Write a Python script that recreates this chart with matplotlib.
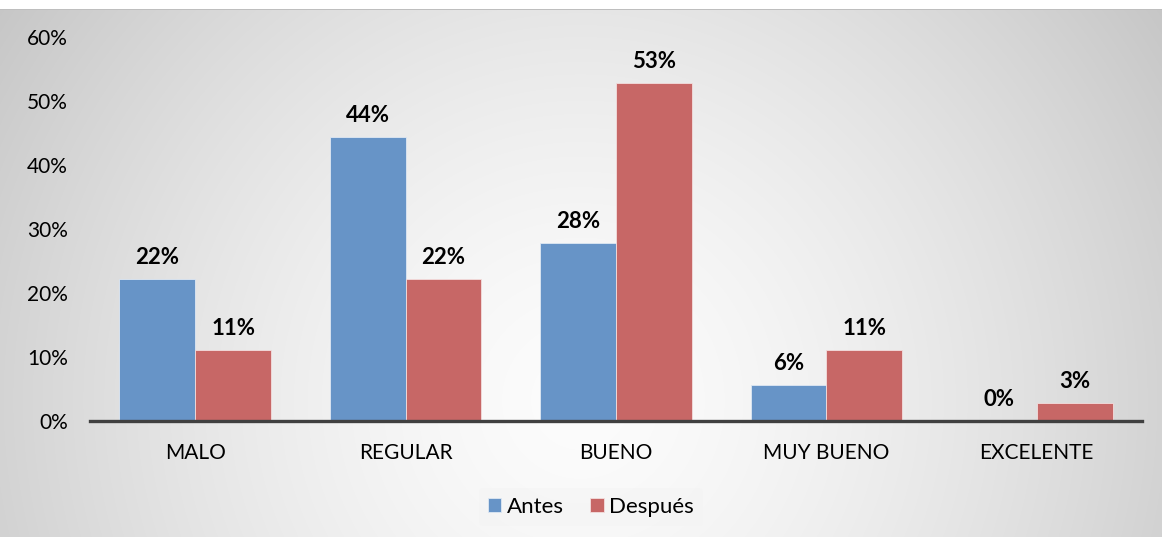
import matplotlib.pyplot as plt
import numpy as np

categorias = ["MALO", "REGULAR", "BUENO", "MUY BUENO", "EXCELENTE"]
antes = [22.2, 44.4, 27.8, 5.6, 0.0]
despues = [11.1, 22.2, 52.8, 11.1, 2.8]
yticks = [0, 10, 20, 30, 40, 50, 60]

azul = "#6794C7"
rojo = "#C76766"

plt.rcParams["font.family"] = ["Lato", "DejaVu Sans"]

fig = plt.figure(figsize=(11.62, 5.37), dpi=100)

# fondo con degradado radial gris
W, H = 1162, 537
yy, xx = np.mgrid[0:H, 0:W]
cx, cy = 580, 400
d = np.hypot(xx - cx, yy - cy) / np.hypot(cx, cy)
g = 252 - 54 * np.clip(d, 0, 1.2) ** 1.5
g[:10, :] = 255
g[9, :] = 190
img = np.dstack([g, g, g]).astype(np.uint8)
bg = fig.add_axes([0, 0, 1, 1], zorder=-1)
bg.imshow(img, aspect="auto", interpolation="bilinear")
bg.axis("off")

ax = fig.add_axes([90 / W, 1 - 421 / H, (1142 - 90) / W, (421 - 37) / H])
ax.patch.set_alpha(0)

x = np.arange(len(categorias))
w = 0.36
b1 = ax.bar(x - w / 2, antes, w, color=azul, edgecolor="#dfe8f3", linewidth=0.6, label="Antes")
b2 = ax.bar(x + w / 2, despues, w, color=rojo, edgecolor="#f3dede", linewidth=0.6, label="Después")

for bars in (b1, b2):
    for r in bars:
        h = r.get_height()
        ax.annotate(f"{h:.0f}%", (r.get_x() + r.get_width() / 2, h),
                    xytext=(0, 8), textcoords="offset points",
                    ha="center", va="bottom", fontsize=16, fontweight="bold")

ax.set_xlim(-0.5, 4.5)
ax.set_ylim(0, 60)
ax.set_yticks(yticks)
ax.set_yticklabels([f"{v}%" for v in yticks])
ax.set_xticks(x)
ax.set_xticklabels(categorias)
ax.tick_params(axis="y", length=0, pad=16, labelsize=15)
ax.tick_params(axis="x", length=0, pad=16, labelsize=15)
for s in ["top", "right", "left"]:
    ax.spines[s].set_visible(False)
ax.spines["bottom"].set_color("#404040")
ax.spines["bottom"].set_linewidth(2.4)

leg = fig.legend(loc="center", bbox_to_anchor=(591 / W, 1 - 507 / H), ncol=2,
                 fontsize=16, frameon=True, handlelength=0.6, handleheight=0.6,
                 handletextpad=0.25, columnspacing=1.2, borderpad=0.4)
leg.get_frame().set_facecolor("#f4f4f4")
leg.get_frame().set_edgecolor("none")
leg.get_frame().set_alpha(0.6)

fig.savefig("out.png", dpi=100)
